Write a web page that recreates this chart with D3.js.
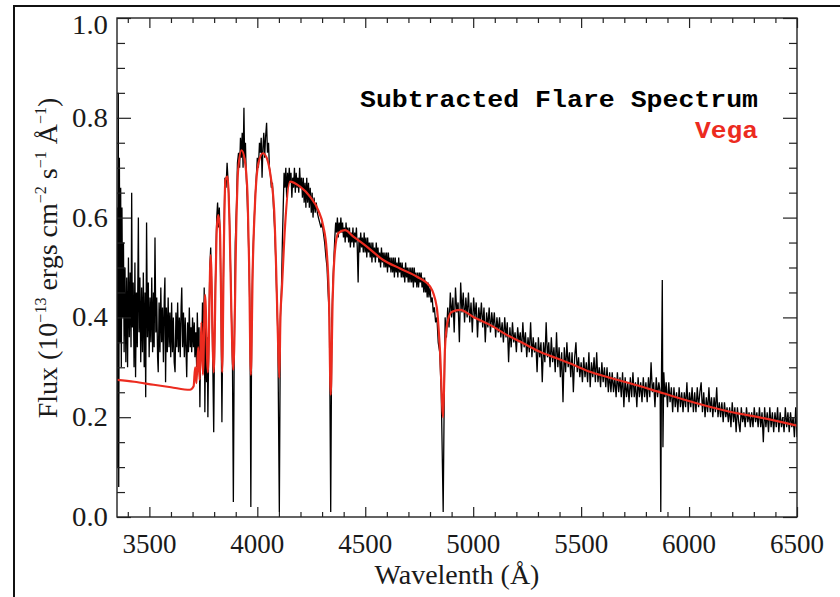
<!DOCTYPE html>
<html>
<head>
<meta charset="utf-8">
<script src="https://cdn.jsdelivr.net/npm/d3@7"></script>
<style>
  body { margin: 0; background: #fff; }
  svg { display: block; }
</style>
</head>
<body>
<script>
// [wavelength (A), flux (1e-13 erg cm-2 s-1 A-1)]
const flareSpectrum = [
  [3350,0.42],[3352,0.62],[3354,0.10],[3356,0.85],[3358,0.06],[3361,0.72],[3364,0.35],[3367,0.66],[3370,0.30],[3373,0.62],
  [3376,0.40],[3380,0.55],[3383,0.33],[3387,0.50],[3391,0.31],[3395,0.48],[3399,0.30],[3403,0.52],[3407,0.36],[3411,0.49],
  [3415,0.34],[3418,0.65],[3421,0.38],[3425,0.47],[3429,0.30],[3433,0.51],[3436,0.28],[3440,0.45],[3444,0.34],[3449,0.60],
  [3452,0.37],[3456,0.48],[3460,0.31],[3464,0.46],[3468,0.33],[3472,0.49],[3476,0.30],[3480,0.45],[3483,0.24],[3487,0.59],
  [3491,0.36],[3495,0.47],[3499,0.32],[3503,0.44],[3507,0.35],[3511,0.48],[3515,0.33],[3519,0.45],[3522,0.34],[3526,0.56],
  [3530,0.37],[3534,0.44],[3538,0.32],[3541,0.29],[3545,0.43],[3549,0.33],[3553,0.46],[3557,0.35],[3561,0.42],[3565,0.31],
  [3569,0.44],[3572,0.48],[3575,0.27],[3579,0.42],[3583,0.33],[3587,0.44],[3591,0.34],[3595,0.41],[3599,0.32],[3603,0.43],
  [3607,0.33],[3611,0.40],[3615,0.31],[3619,0.29],[3623,0.41],[3627,0.34],[3631,0.43],[3635,0.33],[3639,0.40],[3643,0.32],
  [3647,0.42],[3650,0.46],[3654,0.34],[3658,0.41],[3662,0.32],[3666,0.40],[3670,0.33],[3673,0.28],[3677,0.39],[3681,0.33],
  [3685,0.42],[3689,0.34],[3693,0.38],[3696,0.33],[3700,0.40],[3704,0.34],[3708,0.39],[3711,0.32],[3715,0.37],[3719,0.30],
  [3722,0.41],[3726,0.33],[3730,0.38],[3734,0.22],[3738,0.37],[3742,0.33],[3746,0.43],[3750,0.31],[3754,0.46],[3757,0.21],
  [3761,0.38],[3765,0.27],[3768,0.36],[3771,0.20],[3776,0.38],[3780,0.50],[3784,0.54],[3788,0.47],[3792,0.36],[3798,0.17],
  [3803,0.40],[3808,0.52],[3812,0.60],[3816,0.63],[3820,0.58],[3824,0.62],[3828,0.55],[3832,0.42],[3836,0.19],[3840,0.38],
  [3845,0.56],[3850,0.68],[3855,0.66],[3860,0.71],[3865,0.67],[3870,0.62],[3875,0.52],[3880,0.41],[3885,0.30],[3889,0.03],
  [3893,0.33],[3898,0.55],[3904,0.63],[3908,0.71],[3913,0.73],[3918,0.70],[3922,0.76],[3926,0.72],[3930,0.77],[3934,0.70],
  [3938,0.82],[3941,0.72],[3945,0.75],[3949,0.68],[3953,0.64],[3958,0.57],[3962,0.50],[3966,0.40],[3970,0.02],[3974,0.40],
  [3979,0.52],[3984,0.58],[3990,0.64],[3995,0.68],[4000,0.72],[4005,0.70],[4010,0.75],[4014,0.73],[4018,0.76],[4022,0.68],
  [4026,0.74],[4030,0.77],[4034,0.72],[4038,0.76],[4043,0.79],[4047,0.73],[4052,0.75],[4056,0.70],[4060,0.69],[4065,0.66],
  [4070,0.67],[4075,0.62],[4080,0.58],[4085,0.52],[4090,0.44],[4095,0.37],[4102,0.01],[4107,0.40],[4112,0.46],[4116,0.55],
  [4120,0.62],[4124,0.69],[4128,0.66],[4132,0.70],[4136,0.64],[4140,0.69],[4144,0.66],[4148,0.70],[4152,0.67],[4156,0.69],
  [4160,0.64],[4164,0.68],[4168,0.66],[4172,0.70],[4176,0.65],[4180,0.69],[4184,0.66],[4188,0.68],[4192,0.65],[4196,0.70],
  [4200,0.66],[4205,0.68],[4209,0.64],[4213,0.68],[4217,0.63],[4221,0.67],[4225,0.62],[4229,0.68],[4233,0.63],[4237,0.67],
  [4241,0.62],[4245,0.66],[4250,0.61],[4254,0.65],[4258,0.60],[4263,0.64],[4268,0.61],[4273,0.63],[4278,0.61],[4283,0.60],
  [4289,0.59],[4295,0.58],[4300,0.59],[4306,0.57],[4312,0.55],[4318,0.52],[4323,0.50],[4328,0.45],[4334,0.40],[4340,0.01],
  [4345,0.39],[4350,0.47],[4355,0.52],[4359,0.56],[4363,0.59],[4367,0.57],[4371,0.60],[4375,0.56],[4379,0.59],[4383,0.57],
  [4387,0.60],[4391,0.57],[4395,0.59],[4399,0.56],[4403,0.58],[4407,0.55],[4411,0.59],[4415,0.56],[4419,0.58],[4423,0.55],
  [4427,0.58],[4431,0.54],[4435,0.57],[4439,0.55],[4443,0.58],[4447,0.54],[4451,0.57],[4455,0.55],[4459,0.58],[4463,0.54],
  [4467,0.47],[4471,0.56],[4475,0.53],[4479,0.57],[4483,0.54],[4487,0.56],[4491,0.53],[4495,0.57],[4499,0.53],[4503,0.56],
  [4507,0.52],[4511,0.56],[4515,0.53],[4519,0.55],[4523,0.52],[4527,0.55],[4531,0.51],[4535,0.55],[4539,0.52],[4543,0.54],
  [4547,0.51],[4551,0.55],[4555,0.52],[4559,0.54],[4563,0.51],[4567,0.53],[4571,0.50],[4575,0.54],[4579,0.51],[4583,0.53],
  [4587,0.50],[4591,0.53],[4595,0.50],[4599,0.53],[4603,0.49],[4607,0.53],[4611,0.50],[4615,0.52],[4619,0.49],[4623,0.52],
  [4627,0.49],[4631,0.52],[4635,0.48],[4639,0.52],[4643,0.49],[4647,0.51],[4651,0.48],[4655,0.52],[4659,0.49],[4663,0.51],
  [4667,0.48],[4671,0.51],[4675,0.48],[4679,0.50],[4683,0.47],[4687,0.51],[4691,0.48],[4695,0.50],[4699,0.47],[4703,0.50],
  [4707,0.47],[4711,0.50],[4715,0.47],[4719,0.50],[4723,0.46],[4727,0.50],[4731,0.47],[4735,0.49],[4739,0.46],[4743,0.49],
  [4747,0.46],[4751,0.49],[4755,0.47],[4759,0.49],[4763,0.46],[4767,0.48],[4771,0.45],[4775,0.48],[4779,0.45],[4783,0.47],
  [4787,0.44],[4791,0.47],[4795,0.44],[4800,0.46],[4805,0.43],[4810,0.44],[4815,0.41],[4820,0.42],[4826,0.39],[4832,0.40],
  [4838,0.35],[4845,0.33],[4852,0.25],[4861,0.01],[4866,0.25],[4870,0.40],[4876,0.36],[4882,0.42],[4888,0.38],[4894,0.45],
  [4900,0.40],[4906,0.44],[4912,0.37],[4918,0.46],[4924,0.41],[4930,0.43],[4936,0.35],[4942,0.47],[4948,0.41],[4954,0.45],
  [4960,0.39],[4966,0.44],[4972,0.40],[4978,0.45],[4984,0.39],[4990,0.43],[4996,0.37],[5002,0.44],[5008,0.40],[5014,0.43],
  [5020,0.36],[5026,0.42],[5032,0.39],[5038,0.43],[5044,0.38],[5050,0.42],[5056,0.35],[5062,0.41],[5068,0.38],[5074,0.42],
  [5080,0.37],[5086,0.41],[5092,0.38],[5098,0.41],[5104,0.36],[5110,0.40],[5116,0.37],[5122,0.40],[5128,0.36],[5134,0.39],
  [5140,0.35],[5146,0.40],[5152,0.36],[5158,0.39],[5164,0.31],[5170,0.38],[5176,0.34],[5182,0.39],[5188,0.35],[5194,0.37],
  [5200,0.33],[5206,0.38],[5212,0.35],[5218,0.37],[5224,0.33],[5230,0.39],[5236,0.34],[5242,0.37],[5248,0.32],[5254,0.36],
  [5260,0.33],[5266,0.39],[5272,0.32],[5278,0.36],[5284,0.33],[5290,0.35],[5296,0.29],[5302,0.36],[5308,0.32],[5314,0.35],
  [5320,0.27],[5326,0.35],[5332,0.31],[5338,0.39],[5344,0.32],[5350,0.35],[5356,0.30],[5362,0.36],[5368,0.31],[5374,0.34],
  [5380,0.29],[5386,0.37],[5392,0.30],[5398,0.34],[5404,0.28],[5410,0.33],[5416,0.23],[5422,0.34],[5428,0.29],[5434,0.35],
  [5440,0.30],[5446,0.33],[5452,0.28],[5458,0.33],[5464,0.25],[5470,0.32],[5476,0.35],[5482,0.29],[5488,0.32],[5494,0.28],
  [5500,0.31],[5506,0.27],[5512,0.32],[5518,0.28],[5524,0.31],[5530,0.27],[5536,0.33],[5542,0.26],[5548,0.31],[5554,0.28],
  [5560,0.32],[5566,0.27],[5572,0.33],[5578,0.27],[5584,0.30],[5590,0.26],[5596,0.31],[5602,0.27],[5608,0.30],[5614,0.26],
  [5620,0.30],[5626,0.25],[5632,0.29],[5638,0.25],[5644,0.29],[5650,0.25],[5656,0.28],[5662,0.24],[5668,0.29],[5674,0.25],
  [5680,0.28],[5686,0.24],[5692,0.29],[5698,0.22],[5704,0.28],[5710,0.24],[5716,0.27],[5722,0.23],[5728,0.28],[5734,0.24],
  [5740,0.29],[5746,0.24],[5752,0.27],[5758,0.22],[5764,0.28],[5770,0.24],[5776,0.27],[5782,0.23],[5788,0.28],[5794,0.24],
  [5800,0.27],[5806,0.23],[5812,0.28],[5818,0.24],[5824,0.31],[5830,0.25],[5836,0.27],[5842,0.22],[5848,0.28],[5854,0.24],
  [5860,0.27],[5866,0.25],[5869,0.01],[5872,0.27],[5876,0.475],[5879,0.14],[5883,0.29],[5888,0.24],[5894,0.27],[5900,0.22],
  [5906,0.27],[5912,0.23],[5918,0.26],[5924,0.21],[5930,0.26],[5936,0.22],[5942,0.25],[5948,0.21],[5954,0.26],[5960,0.22],
  [5966,0.25],[5972,0.21],[5978,0.25],[5984,0.22],[5990,0.27],[5996,0.21],[6002,0.25],[6008,0.22],[6014,0.26],[6020,0.21],
  [6026,0.25],[6032,0.21],[6038,0.26],[6044,0.22],[6050,0.25],[6056,0.27],[6062,0.21],[6068,0.25],[6074,0.20],[6080,0.24],
  [6086,0.21],[6092,0.26],[6098,0.21],[6104,0.24],[6110,0.20],[6116,0.24],[6122,0.21],[6128,0.26],[6134,0.20],[6140,0.23],
  [6146,0.20],[6152,0.23],[6158,0.19],[6164,0.23],[6170,0.20],[6176,0.22],[6182,0.19],[6188,0.22],[6194,0.18],[6200,0.23],
  [6206,0.19],[6212,0.22],[6218,0.17],[6224,0.22],[6230,0.19],[6236,0.17],[6242,0.22],[6248,0.19],[6254,0.21],[6260,0.18],
  [6266,0.22],[6272,0.19],[6278,0.21],[6284,0.18],[6290,0.21],[6296,0.18],[6302,0.22],[6308,0.19],[6314,0.21],[6320,0.18],
  [6326,0.22],[6332,0.18],[6338,0.21],[6344,0.15],[6350,0.22],[6356,0.18],[6362,0.21],[6368,0.17],[6374,0.22],[6380,0.18],
  [6386,0.21],[6392,0.17],[6398,0.21],[6404,0.18],[6410,0.22],[6416,0.17],[6422,0.21],[6428,0.18],[6434,0.20],[6440,0.17],
  [6446,0.22],[6452,0.18],[6458,0.21],[6464,0.17],[6470,0.21],[6476,0.18],[6482,0.20],[6488,0.16],[6494,0.22],[6500,0.16]
]

// scaled Vega model
const vegaModel = [
  [3350,0.275],[3430,0.271],[3520,0.265],[3600,0.260],[3688,0.255],[3705,0.262],[3712,0.300],[3718,0.268],[3726,0.340],
  [3733,0.275],[3741,0.390],[3748,0.285],[3758,0.445],[3771,0.290],[3784,0.525],[3798,0.290],[3807,0.475],[3812,0.575],
  [3819,0.605],[3827,0.575],[3832,0.441],[3837,0.290],[3845,0.542],[3852,0.675],[3862,0.682],[3872,0.575],[3880,0.408],
  [3889,0.295],[3904,0.609],[3911,0.695],[3927,0.735],[3942,0.715],[3955,0.642],[3962,0.508],[3970,0.285],[3979,0.502],
  [3990,0.635],[4005,0.709],[4026,0.729],[4044,0.719],[4062,0.682],[4078,0.615],[4087,0.502],[4095,0.369],[4102,0.279],
  [4107,0.400],[4113,0.450],[4128,0.580],[4151,0.672],[4198,0.662],[4244,0.642],[4282,0.615],[4306,0.582],[4321,0.535],
  [4332,0.435],[4340,0.245],[4349,0.435],[4360,0.535],[4375,0.569],[4406,0.575],[4445,0.562],[4507,0.542],[4583,0.515],
  [4661,0.498],[4738,0.482],[4800,0.462],[4831,0.421],[4846,0.335],[4861,0.200],[4869,0.335],[4880,0.388],[4900,0.411],
  [4939,0.415],[5000,0.401],[5078,0.385],[5155,0.365],[5232,0.348],[5309,0.331],[5387,0.318],[5464,0.305],[5541,0.291],
  [5618,0.281],[5726,0.268],[5880,0.248],[6035,0.228],[6189,0.211],[6344,0.198],[6500,0.183]
]

const xMajorTicks = [3500, 4000, 4500, 5000, 5500, 6000, 6500]
const yMajorTicks = [0.0, 0.2, 0.4, 0.6, 0.8, 1.0]
const legendLabels = ['Subtracted Flare Spectrum', 'Vega']

const width = 840
const height = 597
const plotLeft = 117, plotRight = 797, plotTop = 18, plotBottom = 517

const svg = d3.select('body')
  .append('svg')
  .attr('width', width)
  .attr('height', height)

// outer frame of the figure
svg.append('path')
  .attr('d', `M14,${height} V6 H${width}`)
  .attr('fill', 'none')
  .attr('stroke', '#111')
  .attr('stroke-width', 2)

const x = d3.scaleLinear().domain([3350, 6500]).range([plotLeft, plotRight])
const y = d3.scaleLinear().domain([0, 1]).range([plotBottom, plotTop])

svg.append('clipPath').attr('id', 'plot')
  .append('rect')
  .attr('x', plotLeft).attr('y', plotTop)
  .attr('width', plotRight - plotLeft).attr('height', plotBottom - plotTop)

const line = d3.line().x(d => x(d[0])).y(d => y(d[1]))

const plot = svg.append('g').attr('clip-path', 'url(#plot)')

plot.append('path')
  .datum(flareSpectrum)
  .attr('d', line)
  .attr('fill', 'none')
  .attr('stroke', '#000')
  .attr('stroke-width', 1.3)

plot.append('path')
  .datum(vegaModel)
  .attr('d', d3.line().x(d => x(d[0])).y(d => y(d[1])).curve(d3.curveMonotoneX))
  .attr('fill', 'none')
  .attr('stroke', '#ec2b1f')
  .attr('stroke-width', 2.2)

// axes: ticks point inwards on all four sides
const xMinor = d3.range(3400, 6500, 100).filter(v => !xMajorTicks.includes(v))
const yMinor = d3.range(0.05, 1, 0.05).filter(v => !yMajorTicks.some(t => Math.abs(t - v) < 1e-6))

function styleAxis(g) {
  g.select('.domain').remove()
  g.selectAll('line').attr('stroke', '#222').attr('stroke-width', 1.2)
  g.selectAll('text').remove()
}

svg.append('g').attr('transform', `translate(0,${plotBottom})`)
  .call(d3.axisBottom(x).tickValues(xMajorTicks).tickSize(-10)).call(styleAxis)
svg.append('g').attr('transform', `translate(0,${plotBottom})`)
  .call(d3.axisBottom(x).tickValues(xMinor).tickSize(-5)).call(styleAxis)
svg.append('g').attr('transform', `translate(0,${plotTop})`)
  .call(d3.axisTop(x).tickValues(xMajorTicks).tickSize(-10)).call(styleAxis)
svg.append('g').attr('transform', `translate(0,${plotTop})`)
  .call(d3.axisTop(x).tickValues(xMinor).tickSize(-5)).call(styleAxis)
svg.append('g').attr('transform', `translate(${plotLeft},0)`)
  .call(d3.axisLeft(y).tickValues(yMajorTicks).tickSize(-14)).call(styleAxis)
svg.append('g').attr('transform', `translate(${plotLeft},0)`)
  .call(d3.axisLeft(y).tickValues(yMinor).tickSize(-8)).call(styleAxis)
svg.append('g').attr('transform', `translate(${plotRight},0)`)
  .call(d3.axisRight(y).tickValues(yMajorTicks).tickSize(-14)).call(styleAxis)
svg.append('g').attr('transform', `translate(${plotRight},0)`)
  .call(d3.axisRight(y).tickValues(yMinor).tickSize(-8)).call(styleAxis)

svg.append('rect')
  .attr('x', plotLeft).attr('y', plotTop)
  .attr('width', plotRight - plotLeft).attr('height', plotBottom - plotTop)
  .attr('fill', 'none')
  .attr('stroke', '#222')
  .attr('stroke-width', 1.4)

const serif = '"Liberation Serif", "Times New Roman", serif'

svg.selectAll('text.xtick')
  .data(xMajorTicks)
  .enter()
  .append('text')
  .attr('class', 'xtick')
  .attr('x', d => x(d))
  .attr('y', 553)
  .attr('text-anchor', 'middle')
  .attr('font-family', serif)
  .attr('font-size', 27)
  .attr('fill', '#1a1a1a')
  .text(d => d)

svg.selectAll('text.ytick')
  .data(yMajorTicks)
  .enter()
  .append('text')
  .attr('class', 'ytick')
  .attr('x', 108)
  .attr('y', d => d === 1 ? y(d) + 16 : y(d) + 9)
  .attr('text-anchor', 'end')
  .attr('font-family', serif)
  .attr('font-size', 27)
  .attr('textLength', 36)
  .attr('lengthAdjust', 'spacingAndGlyphs')
  .attr('fill', '#1a1a1a')
  .text(d => d.toFixed(1))

svg.append('text')
  .attr('x', 457)
  .attr('y', 584)
  .attr('text-anchor', 'middle')
  .attr('font-family', serif)
  .attr('font-size', 28)
  .attr('fill', '#1a1a1a')
  .text('Wavelenth (Å)')

const ylab = svg.append('text')
  .attr('transform', 'translate(57,258) rotate(-90)')
  .attr('text-anchor', 'middle')
  .attr('font-family', serif)
  .attr('font-size', 28)
  .attr('fill', '#1a1a1a')
ylab.append('tspan').text('Flux (10')
ylab.append('tspan').attr('font-size', 16).attr('dy', -11).text('−13')
ylab.append('tspan').attr('dy', 11).text(' ergs cm')
ylab.append('tspan').attr('font-size', 16).attr('dy', -11).text('−2')
ylab.append('tspan').attr('dy', 11).text(' s')
ylab.append('tspan').attr('font-size', 16).attr('dy', -11).text('−1')
ylab.append('tspan').attr('dy', 11).text(' Å')
ylab.append('tspan').attr('font-size', 16).attr('dy', -11).text('−1')
ylab.append('tspan').attr('dy', 11).text(')')

// legend
const mono = '"Liberation Mono", "Courier New", monospace'
svg.append('text')
  .attr('x', 758).attr('y', 107)
  .attr('text-anchor', 'end')
  .attr('font-family', mono)
  .attr('font-weight', 'bold')
  .attr('font-size', 24)
  .attr('textLength', 398)
  .attr('lengthAdjust', 'spacingAndGlyphs')
  .attr('fill', '#000')
  .text(legendLabels[0])

svg.append('text')
  .attr('x', 758).attr('y', 138)
  .attr('text-anchor', 'end')
  .attr('font-family', mono)
  .attr('font-weight', 'bold')
  .attr('font-size', 24)
  .attr('textLength', 63)
  .attr('lengthAdjust', 'spacingAndGlyphs')
  .attr('fill', '#ec2b1f')
  .text(legendLabels[1])
</script>
</body>
</html>
